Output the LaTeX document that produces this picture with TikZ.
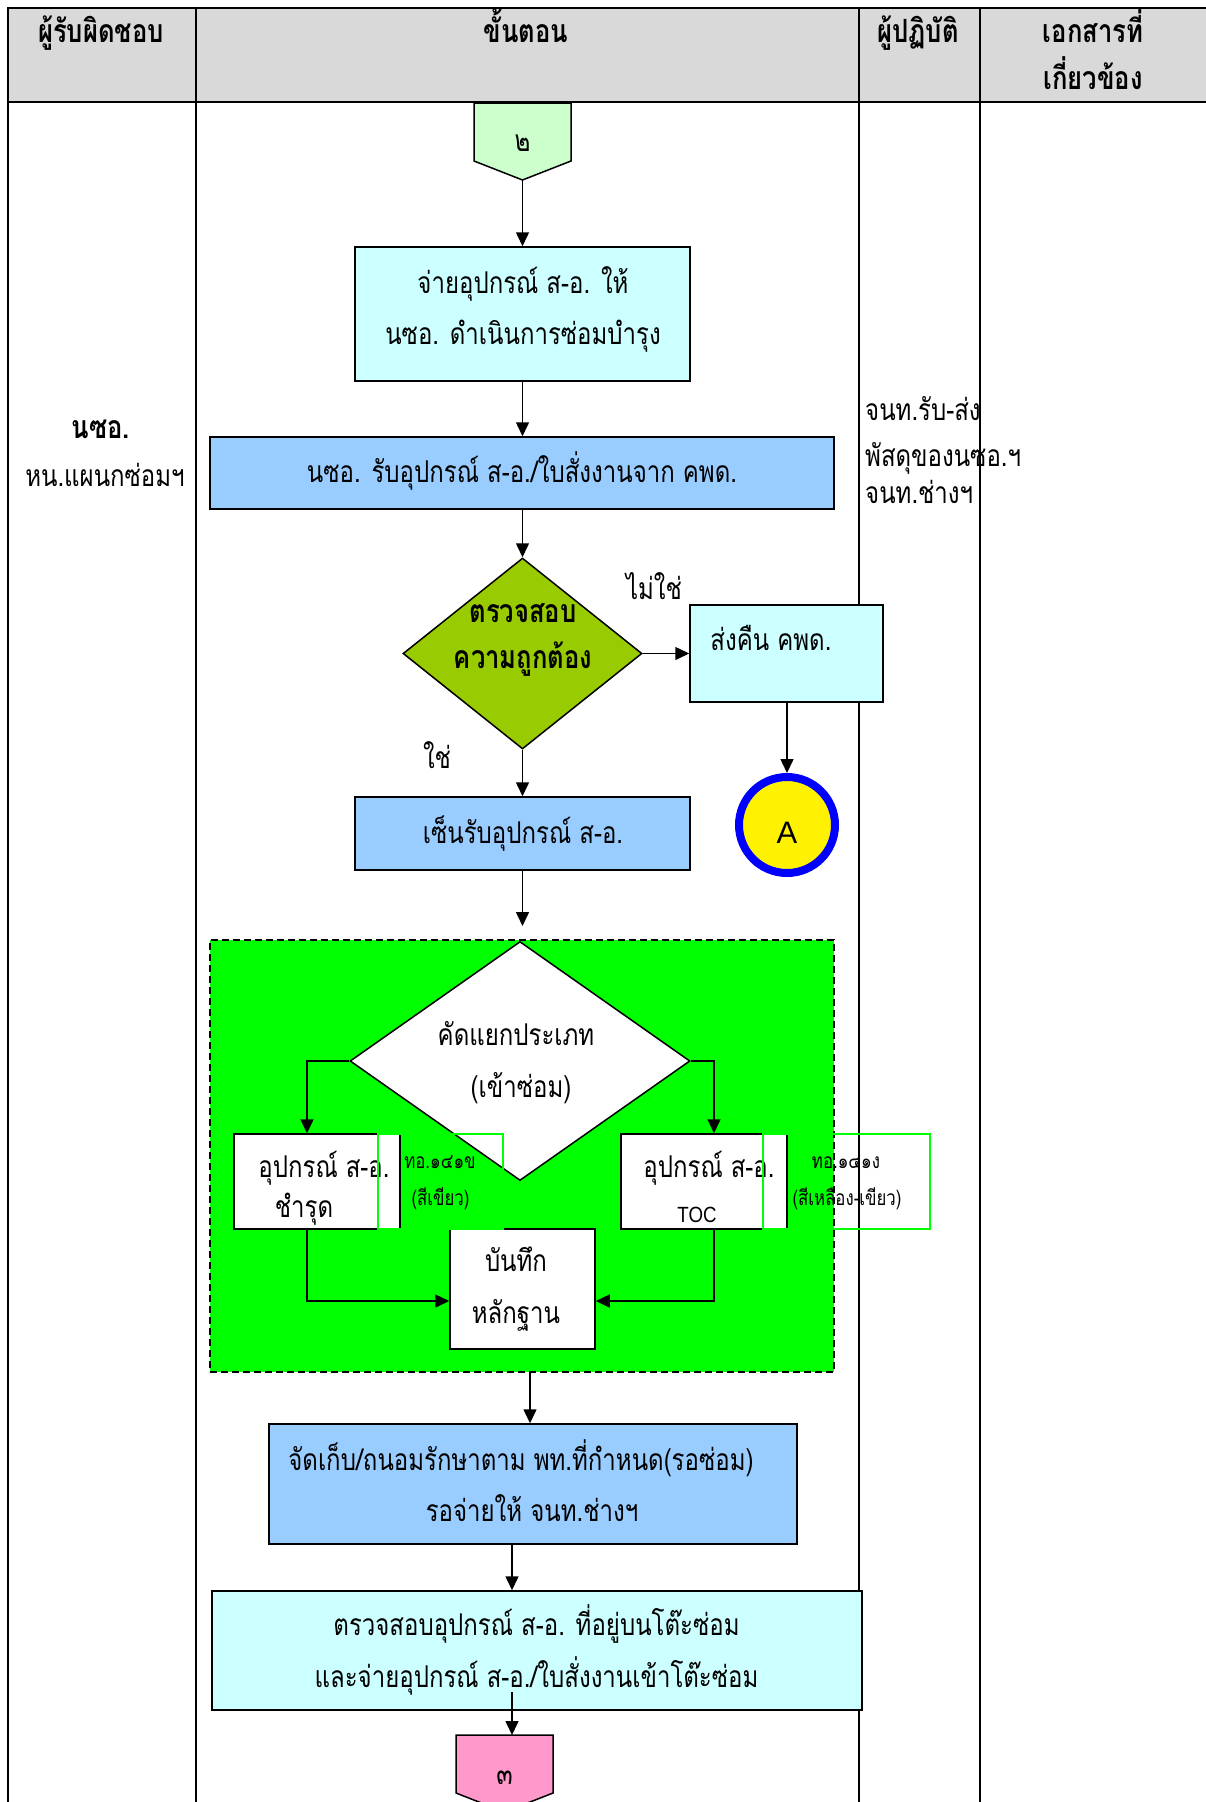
\documentclass[tikz,border=0pt]{standalone}
\usepackage{fontspec}
\usetikzlibrary{arrows.meta,shapes.geometric,calc}
\newfontfamily\thai[Script=Thai,FakeStretch=0.8]{Loma}
\newfontfamily\latin{Liberation Sans}
\newcommand\bodyfont{\thai\fontsize{30}{34}\selectfont}
\newcommand\smallfont{\thai\fontsize{21}{24}\selectfont}
\newcommand\headfont{\thai\bfseries\fontsize{32}{36}\selectfont}
\definecolor{hdrgray}{HTML}{D9D9D9}
\definecolor{cyanl}{HTML}{CCFFFF}
\definecolor{bluel}{HTML}{99CCFF}
\definecolor{greenl}{HTML}{CCFFCC}
\definecolor{olive}{HTML}{99CC00}
\definecolor{lime}{HTML}{00FF00}
\definecolor{pinkl}{HTML}{FF99CC}
\begin{document}
\begin{tikzpicture}[x=1pt,y=-1pt,
  tbl/.style={line width=2.5pt},
  box/.style={draw, line width=1.5pt, inner sep=0pt, rectangle},
  dia/.style={draw, line width=1.5pt, inner sep=0pt, diamond},
  txt/.style={inner sep=0pt, anchor=base, yshift=-2pt, font=\bodyfont},
  stxt/.style={inner sep=0pt, anchor=base, yshift=-1pt, font=\smallfont},
  htxt/.style={inner sep=0pt, anchor=base, yshift=-2pt, font=\headfont},
  arr/.style={-{Triangle[length=14pt,width=13pt]}, line width=1.5pt},
  note/.style={draw=lime, line width=1.5pt}]
\useasboundingbox (0,0) rectangle (1205,1802);
% table frame
\fill[hdrgray] (8,8) rectangle (1210,102);
\draw[tbl] (8,1810) -- (8,8) -- (1210,8);
\draw[tbl] (8,102) -- (1210,102);
\draw[tbl] (196,8) -- (196,1810);
\draw[tbl] (859,8) -- (859,1810);
\draw[tbl] (980,8) -- (980,1810);
% header
\node[htxt] (h1) at (101,40) {ผู้รับผิดชอบ};
\node[htxt] (h2) at (526,40) {ขั้นตอน};
\node[htxt] (h3) at (918,40) {ผู้ปฏิบัติ};
\node[htxt] (h4) at (1093,40) {เอกสารที่};
\node[htxt] (h5) at (1093,87) {เกี่ยวข้อง};
% responsible / performer columns
\node[htxt] (r1) at (101,436) {นซอ.};
\node[txt] (r2) at (105,484) {หน.แผนกซ่อมฯ};
\node[txt, anchor=base west] (p1) at (865,418) {จนท.รับ-ส่ง};
\node[txt, anchor=base west] (p2) at (865,464) {พัสดุของนซอ.ฯ};
\node[txt, anchor=base west] (p3) at (865,501) {จนท.ช่างฯ};
% off-page connector in
\draw[fill=greenl, line width=1.5pt] (474,103) -- (571,103) -- (571,161) -- (522.5,180) -- (474,161) -- cycle;
\node[txt] (c2) at (522.5,149) {๒};
\coordinate (c2tip) at (522.5,180);
% main flow
\node[box, fill=cyanl, minimum width=335pt, minimum height=134pt] (issue) at (522.5,314) {};
\node[txt] (issue1) at (523,291) {จ่ายอุปกรณ์ ส-อ. ให้};
\node[txt] (issue2) at (523,342) {นซอ. ดำเนินการซ่อมบำรุง};
\node[box, fill=bluel, minimum width=624pt, minimum height=72pt] (recv) at (522,473) {};
\node[txt] (recv1) at (522,480) {นซอ. รับอุปกรณ์ ส-อ./ใบสั่งงานจาก คพด.};
\node[dia, fill=olive, minimum width=239pt, minimum height=191pt] (chk) at (522.5,653.5) {};
\node[htxt] (chk1) at (523,620) {ตรวจสอบ};
\node[htxt] (chk2) at (523,666) {ความถูกต้อง};
\node[txt] (no) at (654,597) {ไม่ใช่};
\node[txt] (yes) at (437,766) {ใช่};
\node[box, fill=cyanl, minimum width=193pt, minimum height=97pt] (ret) at (786.5,653.5) {};
\node[txt] (ret1) at (771,648) {ส่งคืน คพด.};
\node[circle, draw=blue, line width=8pt, fill=yellow, minimum size=96pt, inner sep=0pt] (A) at (787,825) {};
\node[inner sep=0pt, anchor=base, font=\latin\fontsize{31}{31}\selectfont] (Atxt) at (787,843) {A};
\node[box, fill=bluel, minimum width=335pt, minimum height=73pt] (sign) at (522.5,833.5) {};
\node[txt] (sign1) at (523,841) {เซ็นรับอุปกรณ์ ส-อ.};
\coordinate (signend) at (522.5,926);
% sorting group
\node[box, dashed, dash pattern=on 7pt off 4pt, fill=lime, minimum width=624pt, minimum height=432pt] (grp) at (522,1156) {};
\node[dia, fill=white, minimum width=340pt, minimum height=239pt] (sort) at (520,1061) {};
\node[txt] (sort1) at (516,1043) {คัดแยกประเภท};
\node[txt] (sort2) at (521,1095) {(เข้าซ่อม)};
\node[box, fill=white, minimum width=166pt, minimum height=95pt] (lbox) at (317,1181.5) {};
\node[box, fill=white, minimum width=166pt, minimum height=95pt] (rbox) at (704,1181.5) {};
\node[box, fill=white, minimum width=145pt, minimum height=120pt] (rec) at (522.5,1289) {};
\node[txt] (l1) at (324,1175) {อุปกรณ์ ส-อ.};
\node[txt] (l2) at (304,1215) {ชำรุด};
\node[txt] (rb1) at (709,1175) {อุปกรณ์ ส-อ.};
\node[inner sep=0pt, anchor=base, font=\latin\fontsize{22}{22}\selectfont] (rb2) at (697,1222) {\scalebox{0.85}[1]{TOC}};
\node[txt] (rec1) at (516,1269) {บันทึก};
\node[txt] (rec2) at (516,1321) {หลักฐาน};
% form references
\draw[note] (378,1134) rectangle (503,1229);
\draw[note] (763,1134) rectangle (930,1229);
\node[stxt] (f1) at (440,1167) {ทอ.๑๔๑ข};
\node[stxt] (f2) at (440.5,1204) {(สีเขียว)};
\node[stxt] (f3) at (846,1167) {ทอ.๑๔๑ง};
\node[stxt] (f4) at (847,1204) {(สีเหลือง-เขียว)};
% storage and dispatch
\node[box, fill=bluel, minimum width=528pt, minimum height=120pt] (store) at (533,1484) {};
\node[txt] (store1) at (521,1468) {จัดเก็บ/ถนอมรักษาตาม พท.ที่กำหนด(รอซ่อม)};
\node[txt] (store2) at (532,1519) {รอจ่ายให้ จนท.ช่างฯ};
\node[box, fill=cyanl, minimum width=650pt, minimum height=119pt] (disp) at (537,1650.5) {};
\node[txt] (disp1) at (536.5,1633) {ตรวจสอบอุปกรณ์ ส-อ. ที่อยู่บนโต๊ะซ่อม};
\node[txt] (disp2) at (536.5,1685) {และจ่ายอุปกรณ์ ส-อ./ใบสั่งงานเข้าโต๊ะซ่อม};
% off-page connector out
\draw[fill=pinkl, line width=1.5pt] (456,1735) -- (553,1735) -- (553,1793) -- (504.5,1812) -- (456,1793) -- cycle;
\node[txt] (c3) at (504.5,1782) {๓};
\coordinate (c3top) at (512,1735);
\coordinate (dispout) at (512,1692);
% connectors
\draw[arr] (c2tip) -- (issue.north);
\draw[arr] (issue.south) -- (recv.north -| issue.south);
\draw[arr] (recv.south -| chk.north) -- (chk.north);
\draw[arr] (chk.east) -- (ret.west);
\draw[arr] (ret.south -| A.north) -- (A.north);
\draw[arr] (chk.south) -- (sign.north);
\draw[arr] (sign.south) -- (signend);
\draw[arr] (sort.west) -| ($(lbox.north)+(-10,0)$);
\draw[arr] (sort.east) -| ($(rbox.north)+(10,0)$);
\draw[arr] ($(lbox.south)+(-10,0)$) |- ($(rec.west)+(0,12)$);
\draw[arr] ($(rbox.south)+(10,0)$) |- ($(rec.east)+(0,12)$);
\draw[arr] (grp.south -| 530,0) -- (store.north -| 530,0);
\draw[arr] (store.south -| 512,0) -- (disp.north -| 512,0);
\draw[arr] (dispout) -- (c3top);
\end{tikzpicture}
\end{document}
